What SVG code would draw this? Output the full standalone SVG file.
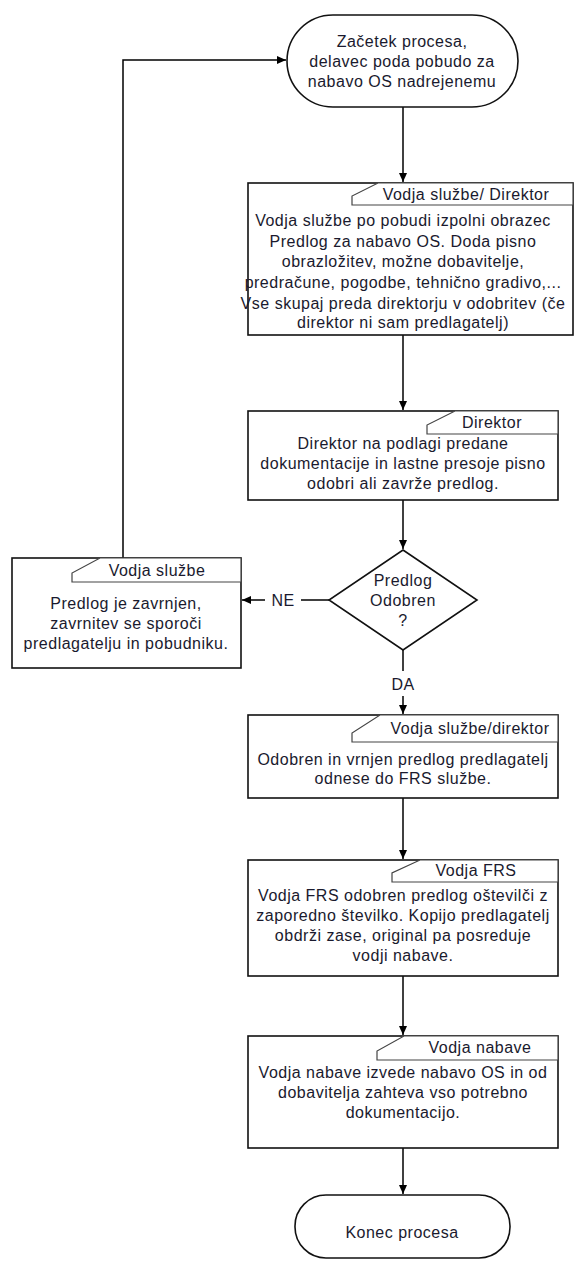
<svg xmlns="http://www.w3.org/2000/svg" width="574" height="1264" viewBox="0 0 574 1264">
<defs>
<marker id="ah" markerWidth="10" markerHeight="10" refX="9" refY="5" orient="auto" markerUnits="userSpaceOnUse">
<path d="M0,1 L9,5 L0,9 Z" fill="#000"/>
</marker>
<style>
.box{fill:#fff;stroke:#111;stroke-width:1.6}
.tab{fill:#fff;stroke:#444;stroke-width:1.2}
.t{font-family:"Liberation Sans",Arial,sans-serif;font-size:16px;letter-spacing:0.5px;fill:#1a1a2e;text-anchor:middle}
.c{fill:none;stroke:#000;stroke-width:1.5}
</style>
</defs>
<rect width="574" height="1264" fill="#fff"/>
<g id="connectors">
<path class="c" d="M403,107 V182" marker-end="url(#ah)"/>
<path class="c" d="M403,335 V410" marker-end="url(#ah)"/>
<path class="c" d="M403,500 V549" marker-end="url(#ah)"/>
<path class="c" d="M329,600 H301"/>
<path class="c" d="M265,600 H242" marker-end="url(#ah)"/>
<text class="t" x="283" y="606">NE</text>
<path class="c" d="M403,650 V671"/>
<text class="t" x="403" y="690">DA</text>
<path class="c" d="M403,696 V714" marker-end="url(#ah)"/>
<path class="c" d="M403,798 V859" marker-end="url(#ah)"/>
<path class="c" d="M403,976 V1035" marker-end="url(#ah)"/>
<path class="c" d="M403,1148 V1194" marker-end="url(#ah)"/>
<path class="c" d="M123,558 V60 H286" marker-end="url(#ah)"/>
</g>
<g id="start">
<rect class="box" x="287" y="15" width="231" height="92" rx="46" ry="46"/>
<text class="t" x="402" y="47">Začetek procesa,</text>
<text class="t" x="402" y="67">delavec poda pobudo za</text>
<text class="t" x="402" y="87">nabavo OS nadrejenemu</text>
</g>
<g id="box2">
<rect class="box" x="248" y="183" width="325" height="152"/>
<path class="tab" d="M352,205 V196 L378,183 H573 V205 Z"/>
<text class="t" x="466" y="200">Vodja službe/ Direktor</text>
<text class="t" x="403" y="226">Vodja službe po pobudi izpolni obrazec</text>
<text class="t" x="403" y="247">Predlog za nabavo OS. Doda pisno</text>
<text class="t" x="403" y="267">obrazložitev, možne dobavitelje,</text>
<text class="t" x="403" y="288">predračune, pogodbe, tehnično gradivo,...</text>
<text class="t" x="403" y="309">Vse skupaj preda direktorju v odobritev (če</text>
<text class="t" x="403" y="328">direktor ni sam predlagatelj)</text>
</g>
<g id="box3">
<rect class="box" x="248" y="411" width="310" height="89"/>
<path class="tab" d="M427,434 V425 L455,411 H558 V434 Z"/>
<text class="t" x="492" y="428">Direktor</text>
<text class="t" x="403" y="449">Direktor na podlagi predane</text>
<text class="t" x="403" y="469">dokumentacije in lastne presoje pisno</text>
<text class="t" x="403" y="489">odobri ali zavrže predlog.</text>
</g>
<g id="decision">
<path class="box" d="M403,550 L477,600 L403,650 L329,600 Z"/>
<text class="t" x="403" y="586">Predlog</text>
<text class="t" x="403" y="606">Odobren</text>
<text class="t" x="403" y="626">?</text>
</g>
<g id="box4">
<rect class="box" x="12" y="558" width="229" height="110"/>
<path class="tab" d="M72,582 V573 L100,558 H241 V582 Z"/>
<text class="t" x="157" y="576">Vodja službe</text>
<text class="t" x="126" y="609">Predlog je zavrnjen,</text>
<text class="t" x="126" y="629">zavrnitev se sporoči</text>
<text class="t" x="126" y="649">predlagatelju in pobudniku.</text>
</g>
<g id="box5">
<rect class="box" x="248" y="715" width="310" height="83"/>
<path class="tab" d="M352,742 V733 L380,715 H558 V742 Z"/>
<text class="t" x="470" y="734">Vodja službe/direktor</text>
<text class="t" x="403" y="765">Odobren in vrnjen predlog predlagatelj</text>
<text class="t" x="403" y="784">odnese do FRS službe.</text>
</g>
<g id="box6">
<rect class="box" x="248" y="860" width="310" height="116"/>
<path class="tab" d="M392,882 V873 L420,860 H558 V882 Z"/>
<text class="t" x="476" y="876">Vodja FRS</text>
<text class="t" x="403" y="901">Vodja FRS odobren predlog oštevilči z</text>
<text class="t" x="403" y="921">zaporedno številko. Kopijo predlagatelj</text>
<text class="t" x="403" y="941">obdrži zase, original pa posreduje</text>
<text class="t" x="403" y="961">vodji nabave.</text>
</g>
<g id="box7">
<rect class="box" x="248" y="1036" width="310" height="112"/>
<path class="tab" d="M377,1060 V1051 L404,1036 H558 V1060 Z"/>
<text class="t" x="480" y="1053">Vodja nabave</text>
<text class="t" x="403" y="1078">Vodja nabave izvede nabavo OS in od</text>
<text class="t" x="403" y="1098">dobavitelja zahteva vso potrebno</text>
<text class="t" x="403" y="1118">dokumentacijo.</text>
</g>
<g id="end">
<rect class="box" x="295" y="1195" width="215" height="63" rx="31" ry="31"/>
<text class="t" x="402" y="1238">Konec procesa</text>
</g>
</svg>
